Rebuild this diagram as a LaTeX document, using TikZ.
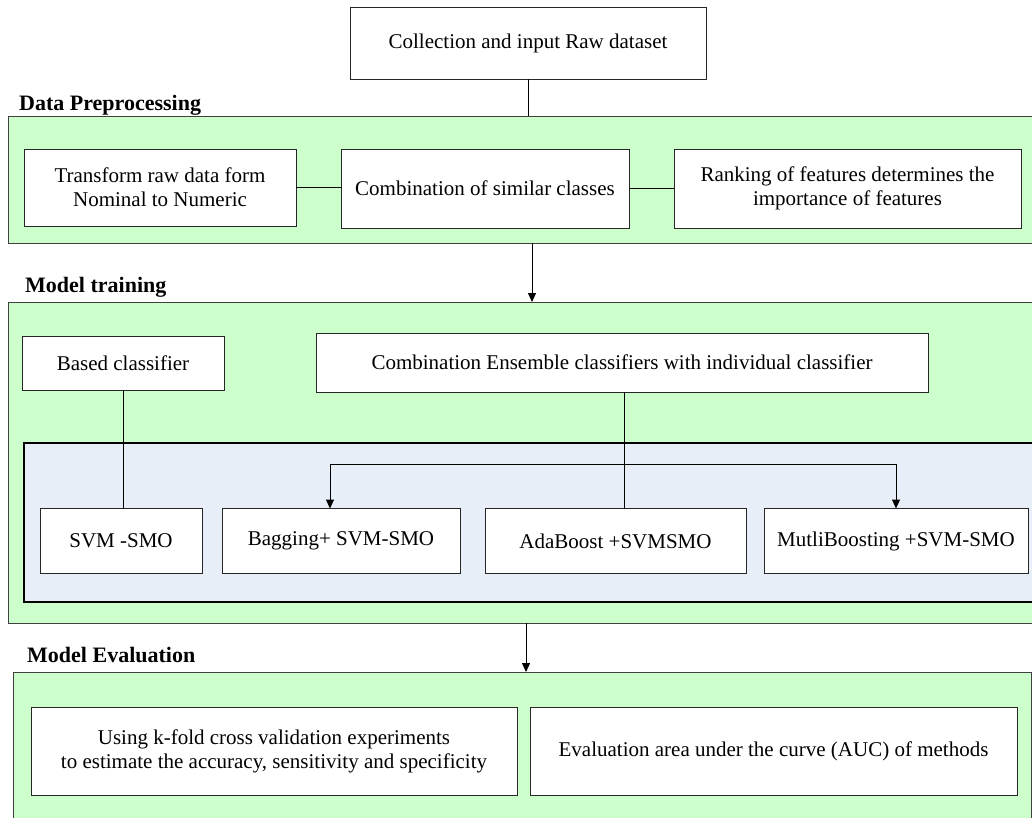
\documentclass[tikz,border=0pt]{standalone}
\usepackage{fontspec}
\setmainfont{Liberation Serif}
\usetikzlibrary{arrows.meta,positioning}
\definecolor{PanelGreen}{HTML}{CCFFCC}
\definecolor{PanelBlue}{HTML}{E7EEF8}
\definecolor{EdgeGray}{HTML}{404040}

\begin{document}
\begin{tikzpicture}[x=1pt,y=-1pt,
  panel/.style={draw=EdgeGray,fill=PanelGreen,line width=1pt,inner sep=0pt,outer sep=0pt},
  box/.style={draw=black!85,fill=white,line width=1pt,align=center,inner sep=0pt,outer sep=0pt,font=\fontsize{21}{24}\selectfont},
  lbl/.style={anchor=base west,inner sep=0pt,font=\fontsize{22}{25}\selectfont\bfseries},
  link/.style={line width=1pt},
  arr/.style={-{Triangle[length=9pt,width=8pt]},line width=1pt}]
  \useasboundingbox (0,0) rectangle (1032,817);

  % stage panels
  \node[panel,minimum width=1025,minimum height=127] (prep) at (520.5,179.5) {};
  \node[panel,minimum width=1025,minimum height=321] (train) at (520.5,462.5) {};
  \node[draw=black,line width=2.5pt,fill=PanelBlue,inner sep=0pt,minimum width=1009,minimum height=159] (ensbg) at (528.5,522.5) {};
  \node[panel,minimum width=1018,minimum height=148] (eval) at (522,746) {};

  \node[lbl] (lprep) at (19,110) {Data Preprocessing};
  \node[lbl] (ltrain) at (25,292) {Model training};
  \node[lbl] (leval) at (27,662) {Model Evaluation};

  \node[box,minimum width=356,minimum height=72] (raw) at (528,43) {Collection and input Raw dataset};

  % preprocessing
  \node[box,minimum width=272,minimum height=77] (trans) at (160,187.5) {Transform raw data form\\Nominal to Numeric};
  \node[box,minimum width=288,minimum height=79] (comb) at (485,188.5) {Combination of similar classes};
  \node[box,minimum width=347,minimum height=79] (rank) at (847.5,188.5) {Ranking of features determines the\\importance of features};

  % training
  \node[box,minimum width=202,minimum height=54] (based) at (123,363) {Based classifier};
  \node[box,minimum width=612,minimum height=59] (ens) at (622,362.5) {Combination Ensemble classifiers with individual classifier};
  \foreach \name/\cx/\bw/\txt in {
    svm/121/162/{SVM -SMO},
    bag/341/238/{Bagging+ SVM-SMO},
    ada/615.5/261/{AdaBoost +SVMSMO},
    mb/896/264/{MutliBoosting +SVM-SMO}}
  {
    \node[box,minimum width=\bw,minimum height=65] (\name) at (\cx,541) {\txt};
  }

  % evaluation
  \node[box,minimum width=486,minimum height=88] (kfold) at (274,751) {Using k-fold cross validation experiments\\to estimate the accuracy, sensitivity and specificity};
  \node[box,minimum width=487,minimum height=88] (auc) at (773.5,751) {Evaluation area under the curve (AUC) of methods};

  % connectors
  \draw[link] (raw.south) -- (raw.south |- prep.north);
  \draw[link] (trans.east) -- (trans.east -| comb.west);
  \draw[link] (comb.east) -- (comb.east -| rank.west);
  \draw[arr] ([xshift=11.5]prep.south) -- ([xshift=11.5]train.north);
  \draw[link] (based.south) -- (based.south |- svm.north);
  \draw[link] ([xshift=2]ens.south) -- ([xshift=2]ens.south |- ada.north);
  \coordinate (fork) at (624,464);
  \draw[arr] (fork) -| ([xshift=-11]bag.north);
  \draw[arr] (fork) -| (mb.north);
  \draw[arr] ([xshift=5.5]train.south) -- ([xshift=4]eval.north);
\end{tikzpicture}
\end{document}
